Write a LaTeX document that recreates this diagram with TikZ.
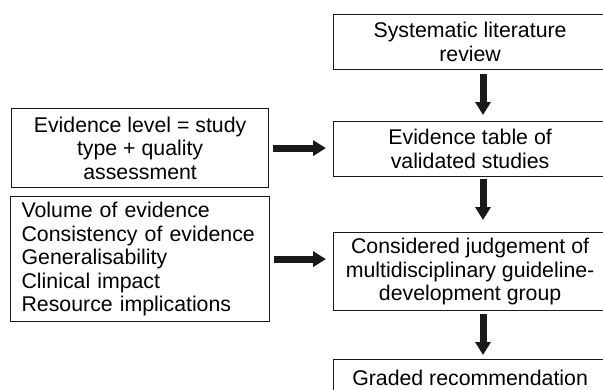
\documentclass[tikz,border=0pt]{standalone}
\usepackage{fontspec}
\setmainfont{Liberation Sans}
\usetikzlibrary{arrows.meta,calc}
\begin{document}
\begin{tikzpicture}[x=1pt,y=-1pt,
  box/.style={draw=black!90, line width=1.2pt, align=center, inner sep=0pt,
    font=\fontsize{21.3}{23.5}\selectfont, text=black},
  fat/.style={draw=black!90, line width=7pt, -{Triangle[width=15pt,length=13pt]}}]
\useasboundingbox (0,0) rectangle (603,389);
\clip (0,0) rectangle (603,389);
\coordinate (ax) at (483,0);
\node[box, minimum width=273pt, minimum height=55pt, anchor=north west] (R1) at (333,14) {Systematic literature\\review};
\node[box, minimum width=273pt, minimum height=55pt, anchor=north west] (R2) at (333,121) {Evidence table of\\validated studies};
\node[box, minimum width=273pt, minimum height=78pt, anchor=north west] (R4) at (333,232) {Considered judgement of\\multidisciplinary guideline-\\development group};
\node[box, minimum width=273pt, minimum height=36pt, anchor=north west] (R5) at (333,359) {Graded recommendation};
\node[box, minimum width=257pt, minimum height=79pt, anchor=north west] (L1) at (11,108) {Evidence level = study\\type + quality\\assessment};
\node[box, text width=237pt, inner xsep=11pt, align=left, minimum height=125pt, anchor=north west] (L2) at (10,196) {Volume of evidence\\Consistency of evidence\\Generalisability\\Clinical impact\\Resource implications};
\draw[fat, shorten <=4pt, shorten >=6pt] (R1.south -| ax) -- (R2.north -| ax);
\draw[fat, shorten <=2pt, shorten >=12pt] (R2.south -| ax) -- (R4.north -| ax);
\draw[fat, shorten <=3pt, shorten >=4pt] (R4.south -| ax) -- (R5.north -| ax);
\draw[fat, shorten <=4pt, shorten >=7pt] (L1.east) -- (L1.east -| R2.west);
\draw[fat, shorten <=4pt, shorten >=7pt] (L2.east) -- (L2.east -| R4.west);
\end{tikzpicture}
\end{document}
